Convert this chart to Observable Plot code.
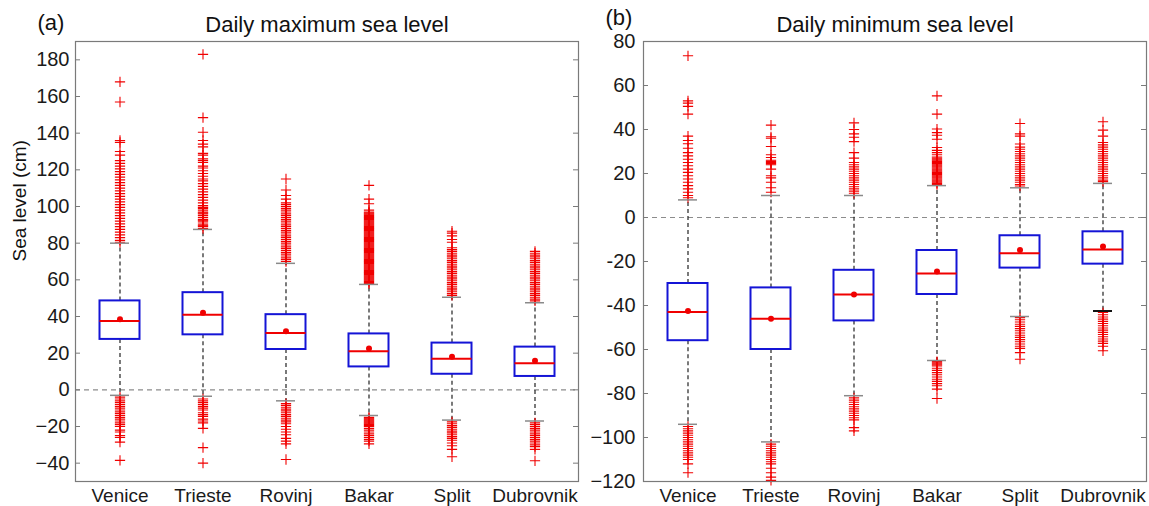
<!DOCTYPE html>
<html>
<head>
<meta charset="utf-8">
<script src="https://cdn.jsdelivr.net/npm/d3@7"></script>
<script src="https://cdn.jsdelivr.net/npm/@observablehq/plot@0.6"></script>
<style>
  html, body { margin: 0; padding: 0; background: #fff; }
  #chart { display: flex; width: 1149px; height: 506px; }
  #chart g[aria-label^="y-axis"] text { font-size: 20px; }
</style>
</head>
<body>
<div id="chart"></div>
<script>
// Tide-gauge stations along the Adriatic coast
const stations = ["Venice", "Trieste", "Rovinj", "Bakar", "Split", "Dubrovnik"];

// Daily maximum sea level (cm): box-plot statistics per station
const maxQ1 = [27.5, 30, 22, 12.5, 8.5, 7.3];
const maxMedian = [37.5, 41, 31, 21, 17, 14.5];
const maxQ3 = [48.5, 53, 41, 30.5, 25.5, 23.3];
const maxMean = [38.5, 42, 32, 22.5, 18, 15.8];
const maxLow = [-3, -3.5, -6, -14, -16.5, -17];
const maxHigh = [80, 87.5, 69, 57.5, 50.5, 47.5];
const maxOutliers = [
  [168, 157, 136, 135, 130, 128, 125, 123.5, 122, 120.5, 119, 117.5, 116, 114.5, 113, 111.5, 110, 108.5, 107, 105.5, 104, 102.5, 101, 99.5, 98, 96.5, 95, 93.5, 92, 90.5, 89, 87.5, 86, 84.5, 83, 81.5, 80.5,
   -4, -5, -6, -7, -8, -9, -10, -11, -12, -13, -14, -15, -16, -17, -18, -19, -20, -22, -23, -25, -26, -28.5, -38.5],
  [183, 148.5, 140.5, 136, 134, 132.5, 129, 128, 126, 125, 124, 122, 121, 119.5, 118, 116.5, 115, 114, 112.5, 111, 109.5, 108, 106.5, 105, 103.5, 102, 100.5, 99.5, 99, 98, 97, 96.5, 96, 95, 94, 93, 92.5, 92, 91, 90, 89.5, 89, 88,
   -5, -6, -7, -8, -9, -10, -11, -12.5, -13.5, -14.5, -16, -17, -18, -21, -31.5, -40],
  [115, 109, 106, 104, 102, 101, 100, 99, 98, 97, 96, 95, 94, 93, 92, 91, 90, 89, 88, 87, 86, 85, 84, 83, 82, 81, 80, 79, 78, 77, 76, 75, 74, 73, 72, 71, 70,
   -7.5, -8.5, -9.5, -10.5, -11.5, -12.5, -13.5, -14.5, -15.5, -16.5, -17.5, -18.5, -20, -21.5, -23, -24.5, -26.5, -28, -29.5, -38],
  [111.5, 104, 101.5, 98, 97, 96.5, 96, 95.5, 95, 94.5, 94, 93.5, 93, 92.5, 92, 91.5, 91, 90.5, 90, 89.5, 89, 88.5, 88, 87.5, 87, 86.5, 86, 85.5, 85, 84.5, 84, 83.5, 83, 82.5, 82, 81.5, 81, 80.5, 80, 79.5, 79, 78.5, 78, 77.5, 77, 76.5, 76, 75.5, 75, 74.5, 74, 73.5, 73, 72.5, 72, 71.5, 71, 70.5, 70, 69.5, 69, 68.5, 68, 67.5, 67, 66.5, 66, 65.5, 65, 64.5, 64, 63.5, 63, 62.5, 62, 61.5, 61, 60.5, 60, 59.5, 59, 58.5, 58,
   -15, -15.5, -16, -16.5, -17, -17.5, -18, -18.5, -19, -19.5, -20, -21, -22, -23, -24, -25, -26, -27, -28, -29.5],
  [86.5, 85.5, 84, 82, 80.5, 77.5, 76.5, 75.5, 74.5, 73.5, 72.5, 71.5, 70.5, 69.5, 68.5, 67.5, 66.5, 65.5, 64.5, 63.5, 62.5, 61.5, 60.5, 59.5, 58.5, 57.5, 56.5, 55.5, 54.5, 53.5, 52.5, 51.5,
   -17.5, -18.5, -19.5, -20.5, -21.5, -22.5, -23.5, -24.5, -25.5, -26.5, -27.5, -29, -30.5, -32.5, -36.5],
  [75.5, 74.5, 73.5, 72.5, 71.5, 70.5, 69.5, 68.5, 67.5, 66.5, 65.5, 64.5, 63.5, 62.5, 61.5, 60.5, 59.5, 58.5, 57.5, 56.5, 55.5, 54.5, 53.5, 52.5, 51.5, 50.5, 49.5, 48.5,
   -18, -19, -20, -21, -22, -23, -24, -25, -26, -27, -28, -29, -30, -31, -32.5, -38.7]
];

// Daily minimum sea level (cm): box-plot statistics per station
const minQ1 = [-56, -60, -47, -35, -23, -21.2];
const minMedian = [-43, -46, -35, -25.5, -16.2, -14.5];
const minQ3 = [-30, -32, -24, -15, -8.3, -6.5];
const minMean = [-42.5, -46, -35, -24.5, -14.8, -13.2];
const minLow = [-94, -102, -81, -65, -45, -42.5];
const minHigh = [8, 10, 10, 14.5, 13.5, 15.5];
const minOutliers = [
  [73.5, 53, 52, 50.5, 47, 37, 35, 33.5, 31.5, 29.5, 28, 26.5, 25, 23.5, 22, 20.5, 19, 17.5, 16, 14.5, 13, 11.5, 10, 9,
   -95, -96, -97, -98, -99, -100, -101, -102, -103, -104, -105, -106, -107, -108, -109, -110, -112, -116],
  [42, 36.7, 36, 32.3, 28.5, 27.3, 26, 25.5, 25, 24.5, 24, 22, 19, 18, 16, 13.5, 11.5,
   -103, -104, -105, -106, -107, -108, -109, -110, -111, -112, -114, -116, -118, -119.5],
  [43, 40, 38, 36.5, 34.5, 29.5, 27, 25, 24, 23, 22, 21, 20, 19, 18, 17, 16, 15, 14, 13, 12, 11,
   -82, -83, -84, -85, -86, -87, -88, -89, -90, -91, -92, -95.5, -97],
  [55.3, 47, 40.2, 38.6, 37.4, 35.6, 31.8, 30.5, 29.5, 28.5, 27.5, 27, 26.5, 26, 25.5, 25, 24.5, 24, 23.5, 23, 22.5, 22, 21.5, 21, 20.5, 20, 19.5, 19, 18.5, 18, 17.5, 17, 16.5, 16, 15.5, 15,
   -65.5, -66, -66.5, -67, -67.5, -68.5, -69.5, -70.5, -71.5, -72.5, -73.5, -74.5, -75.5, -76.5, -78, -82.3],
  [42.7, 38, 37, 33.4, 32, 31, 30, 29, 28, 27, 26, 25, 24, 23, 22, 21, 20, 19, 18, 17, 16, 15, 14.3,
   -45.5, -46.5, -47.5, -48.5, -49.5, -50.5, -51.5, -52.5, -53.5, -54.5, -55.5, -56.5, -57.5, -58.5, -59.5, -61.4, -64.4],
  [43.5, 39.7, 37, 34.1, 33, 32, 31, 30, 29, 28, 27, 26, 25, 24, 23, 22, 21, 20, 19, 18, 17, 16.3,
   -43.2, -44.2, -45.2, -46.2, -47.2, -48.2, -49.2, -50.2, -51.2, -52.2, -53.2, -54.2, -55.2, -56.2, -57.2, -58.5, -60.6]
];

// Axis ticks and their labels
const maxTicks = [-40, -20, 0, 20, 40, 60, 80, 100, 120, 140, 160, 180];
const maxTickLabels = ["−40", "−20", "0", "20", "40", "60", "80", "100", "120", "140", "160", "180"];
const minTicks = [-120, -100, -80, -60, -40, -20, 0, 20, 40, 60, 80];
const minTickLabels = ["−120", "−100", "-80", "-60", "-40", "-20", "0", "20", "40", "60", "80"];

const panelTitles = ["Daily maximum sea level", "Daily minimum sea level"];
const panelTags = ["(a)", "(b)"];
const yLabel = "Sea level (cm)";

const BLUE = "#1414d6", RED = "#f00000", FRAME = "#7a7a7a";
const FONT = "'Liberation Sans', Arial, Helvetica, sans-serif";
const BOX_INSET = 21.5, CAP_INSET = 32;

function statsTable(q1, med, q3, mean, lo, hi) {
  return stations.map((s, i) => ({station: s, q1: q1[i], median: med[i], q3: q3[i], mean: mean[i], lo: lo[i], hi: hi[i]}));
}
function outlierTable(lists) {
  return stations.flatMap((s, i) => lists[i].map(v => ({station: s, value: v})));
}

function panel({stats, outliers, domain, ticks, tickLabels, title, tag, tagDy, width, marginLeft, marginRight, tickPadding, showYLabel, blackLowCap}) {
  const frameW = width - marginLeft - marginRight;
  const lowCapsGray = blackLowCap ? stats.filter(d => d.station !== blackLowCap) : stats;
  const lowCapsBlack = blackLowCap ? stats.filter(d => d.station === blackLowCap) : [];
  return Plot.plot({
    width,
    height: 506,
    marginLeft,
    marginRight,
    marginTop: 41,
    marginBottom: 25,
    style: {fontFamily: FONT, fontSize: "19px", color: "#1a1a1a", background: "#fff", overflow: "visible"},
    x: {domain: stations, padding: 0, tickSize: 0, tickPadding: 7, label: null},
    y: {domain, ticks, tickFormat: d => tickLabels[ticks.indexOf(d)], tickSize: 0, tickPadding, label: null},
    marks: [
      Plot.ruleY([0], {stroke: "#8c8c8c", strokeDasharray: "5,4", strokeWidth: 1.2}),
      // inward tick marks on both vertical edges of the frame
      Plot.ruleY(ticks, {stroke: FRAME, insetRight: frameW - 5}),
      Plot.ruleY(ticks, {stroke: FRAME, insetLeft: frameW - 5}),
      // whiskers
      Plot.ruleX(stats, {x: "station", y1: "q3", y2: "hi", stroke: "#222", strokeWidth: 1.2, strokeDasharray: "4,3"}),
      Plot.ruleX(stats, {x: "station", y1: "q1", y2: "lo", stroke: "#222", strokeWidth: 1.2, strokeDasharray: "4,3"}),
      // outliers
      Plot.dot(outliers, {x: "station", y: "value", symbol: "plus", r: 3.4, stroke: RED, strokeWidth: 1.1}),
      // whisker caps
      Plot.tickY(stats, {x: "station", y: "hi", stroke: "#8a8a8a", strokeWidth: 1.5, insetLeft: CAP_INSET, insetRight: CAP_INSET}),
      Plot.tickY(lowCapsGray, {x: "station", y: "lo", stroke: "#8a8a8a", strokeWidth: 1.5, insetLeft: CAP_INSET, insetRight: CAP_INSET}),
      Plot.tickY(lowCapsBlack, {x: "station", y: "lo", stroke: "#111", strokeWidth: 2, insetLeft: CAP_INSET, insetRight: CAP_INSET}),
      // interquartile boxes
      Plot.barY(stats, {x: "station", y1: "q1", y2: "q3", fill: "none", stroke: BLUE, strokeWidth: 2, insetLeft: BOX_INSET, insetRight: BOX_INSET}),
      // medians and means
      Plot.tickY(stats, {x: "station", y: "median", stroke: RED, strokeWidth: 2, insetLeft: BOX_INSET, insetRight: BOX_INSET}),
      Plot.dot(stats, {x: "station", y: "mean", r: 3, fill: RED}),
      Plot.frame({stroke: FRAME, strokeWidth: 1.2}),
      // panel title and tag
      Plot.text([title], {text: d => d, frameAnchor: "top", lineAnchor: "middle", dy: -17, fontSize: 22, fill: "#111"}),
      Plot.text([tag], {text: d => d, frameAnchor: "top-left", lineAnchor: "middle", textAnchor: "start", dx: -38, dy: tagDy, fontSize: 22, fill: "#111"}),
      ...(showYLabel ? [Plot.text([yLabel], {text: d => d, frameAnchor: "left", lineAnchor: "middle", rotate: -90, dx: -56, fontSize: 19, fill: "#111"})] : [])
    ]
  });
}

const chart = document.getElementById("chart");
chart.append(panel({
  stats: statsTable(maxQ1, maxMedian, maxQ3, maxMean, maxLow, maxHigh),
  outliers: outlierTable(maxOutliers),
  domain: [-50, 190], ticks: maxTicks, tickLabels: maxTickLabels,
  title: panelTitles[0], tag: panelTags[0], tagDy: -19,
  width: 580, marginLeft: 75, marginRight: 2, tickPadding: 6, showYLabel: true
}));
chart.append(panel({
  stats: statsTable(minQ1, minMedian, minQ3, minMean, minLow, minHigh),
  outliers: outlierTable(minOutliers),
  domain: [-120, 80], ticks: minTicks, tickLabels: minTickLabels,
  title: panelTitles[1], tag: panelTags[1], tagDy: -24,
  width: 569, marginLeft: 63, marginRight: 3, tickPadding: 8, showYLabel: false,
  blackLowCap: "Dubrovnik"
}));
</script>
</body>
</html>
